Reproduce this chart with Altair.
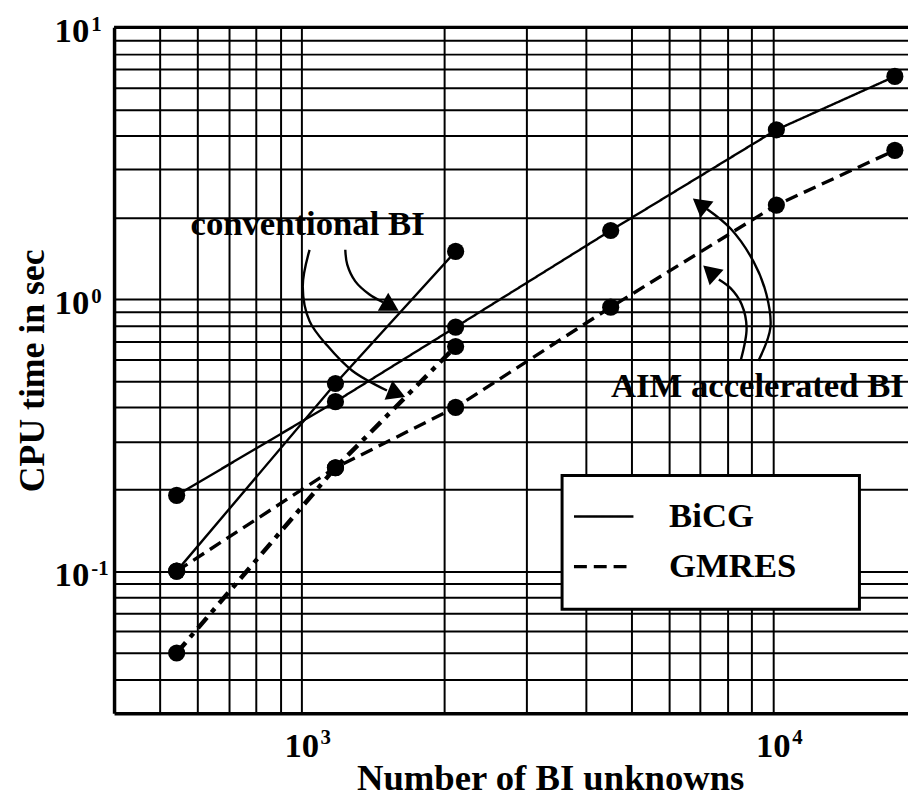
import altair as alt
import pandas as pd

# ---------------- data ----------------
n_unknowns = [543, 1179, 2120, 4520, 10150, 18100]
aim_bicg = [0.19, 0.42, 0.79, 1.79, 4.2, 6.6]
aim_gmres = [0.10, 0.24, 0.40, 0.935, 2.22, 3.53]
conv_n = [543, 1179, 2120]
conv_bicg = [0.10, 0.49, 1.5]
conv_gmres = [0.05, 0.24, 0.67]

methods = ["BiCG", "GMRES"]

x_min, x_max = 400, 19300
y_min, y_max = 0.03, 10

x_grid = [500, 600, 700, 800, 900, 1000, 2000, 3000, 4000, 5000, 6000,
          7000, 8000, 9000, 10000]
y_grid = [0.04, 0.05, 0.06, 0.07, 0.08, 0.09, 0.1, 0.2, 0.3, 0.4, 0.5,
          0.6, 0.7, 0.8, 0.9, 1, 2, 3, 4, 5, 6, 7, 8, 9, 10]

x_label_vals = [1000, 10000]
x_label_exp = ["3", "4"]
y_label_vals = [0.1, 1, 10]
y_label_exp = ["-1", "0", "1"]

annot_text = ["conventional BI", "AIM accelerated BI"]
annot_x = [1029, 9250]
annot_y = [1.727, 0.4354]

# curved annotation arrows (data coordinates)
arrow1_x = [1237, 1249, 1299, 1390, 1487]
arrow1_y = [1.52, 1.34, 1.163, 1.043, 0.975]
arrow2_x = [1039, 1005, 1039, 1134, 1280, 1516]
arrow2_y = [1.52, 1.115, 0.831, 0.674, 0.546, 0.4615]
arrow3_x = [9300, 9856, 9667, 9078, 8123, 7231]
arrow3_y = [0.594, 0.784, 1.043, 1.376, 1.816, 2.148]
arrow4_x = [8524, 8776, 8565, 8123, 7664]
arrow4_y = [0.594, 0.784, 0.959, 1.097, 1.183]

head_x = [1545, 1591, 6989, 7337]
head_y = [0.943, 0.450, 2.24, 1.265]
head_angle = [120, 112, 308, 312]

# ---------------- tables ----------------
aim_df = pd.DataFrame({
    "n": n_unknowns * 2,
    "t": aim_bicg + aim_gmres,
    "method": ["BiCG"] * len(n_unknowns) + ["GMRES"] * len(n_unknowns),
})
conv_bicg_df = pd.DataFrame({"n": conv_n, "t": conv_bicg})
conv_gmres_df = pd.DataFrame({"n": conv_n, "t": conv_gmres})
dots_df = pd.DataFrame({
    "n": n_unknowns * 2 + conv_n * 2,
    "t": aim_bicg + aim_gmres + conv_bicg + conv_gmres,
})

arrows = []
for k, (xs, ys) in enumerate([(arrow1_x, arrow1_y), (arrow2_x, arrow2_y),
                              (arrow3_x, arrow3_y), (arrow4_x, arrow4_y)]):
    for i, (a, b) in enumerate(zip(xs, ys)):
        arrows.append({"arrow": k, "idx": i, "n": a, "t": b})
arrows_df = pd.DataFrame(arrows)
heads_df = pd.DataFrame({"n": head_x, "t": head_y, "angle": head_angle})
annot_df = pd.DataFrame({"n": annot_x, "t": annot_y, "txt": annot_text})

xlab_df = pd.DataFrame({"n": x_label_vals, "t": [y_min] * 2,
                        "base": ["10"] * 2, "exp": x_label_exp})
ylab_df = pd.DataFrame({"n": [x_min] * 3, "t": y_label_vals,
                        "base": ["10"] * 3, "exp": y_label_exp})
top_df = pd.DataFrame({"t": [y_max]})

# ---------------- scales / axes ----------------
FONT = "Liberation Serif"
BIG = 35
TITLE = 36
xscale = alt.Scale(type="log", domain=[x_min, x_max], nice=False)
yscale = alt.Scale(type="log", domain=[y_min, y_max], nice=False)

xaxis = alt.Axis(values=x_grid, labels=False, ticks=False, grid=True,
                 gridColor="black", gridWidth=2, gridOpacity=1,
                 domain=True, domainColor="black", domainWidth=3.5,
                 title="Number of BI unknowns", titleFont=FONT,
                 titleFontSize=37, titleFontWeight="bold", titleColor="black",
                 titlePadding=48, titleX=440, titleAlign="center")
yaxis = alt.Axis(values=y_grid, labels=False, ticks=False, grid=True,
                 gridColor="black", gridWidth=2, gridOpacity=1,
                 domain=True, domainColor="black", domainWidth=3.5,
                 title="CPU time in sec", titleFont=FONT,
                 titleFontSize=TITLE, titleFontWeight="bold", titleColor="black",
                 titlePadding=63)


def X(f="n"):
    return alt.X(f, type="quantitative", scale=xscale, axis=xaxis)


def Y(f="t"):
    return alt.Y(f, type="quantitative", scale=yscale, axis=yaxis)


# invisible (white) legend title only sizes the legend box
legend = alt.Legend(title="M" * 28, titleOrient="bottom", titleFontSize=12,
                    titleColor="white", titlePadding=4, titleLimit=0,
                    orient="none", legendX=452, legendY=452,
                    direction="vertical", symbolType="stroke",
                    symbolSize=3600, symbolStrokeWidth=3,
                    symbolStrokeColor="black", labelFont=FONT,
                    labelFontSize=BIG, labelFontWeight="bold",
                    labelColor="black", labelOffset=34, padding=10,
                    labelLimit=0,
                    rowPadding=-12, fillColor="white", strokeColor="black")

aim_lines = alt.Chart(aim_df).mark_line(color="black").encode(
    x=X(), y=Y(),
    strokeDash=alt.StrokeDash("method:N",
                              scale=alt.Scale(domain=methods,
                                              range=[[1, 0], [13, 7]]),
                              legend=legend),
    strokeWidth=alt.StrokeWidth("method:N",
                                scale=alt.Scale(domain=methods,
                                                range=[2.4, 3.4]),
                                legend=None),
)
conv_b = alt.Chart(conv_bicg_df).mark_line(color="black", strokeWidth=2.4).encode(
    x=X(), y=Y())
conv_g = alt.Chart(conv_gmres_df).mark_line(
    color="black", strokeWidth=4.5, strokeDash=[14, 7, 5, 7]).encode(x=X(), y=Y())
dots = alt.Chart(dots_df).mark_circle(color="black", size=300, opacity=1).encode(
    x=X(), y=Y())

top_rule = alt.Chart(top_df).mark_rule(color="black", strokeWidth=3.5).encode(
    y=Y())

arrow_lines = alt.Chart(arrows_df).mark_line(
    color="black", strokeWidth=2.4, interpolate="catmull-rom").encode(
    x=X(), y=Y(), detail="arrow:N", order=alt.Order("idx:Q"))
heads = alt.Chart(heads_df).mark_point(
    shape="triangle-up", filled=True, size=440, color="black", opacity=1).encode(
    x=X(), y=Y(), angle=alt.Angle("angle:Q", scale=None))
annots = alt.Chart(annot_df).mark_text(
    font=FONT, fontSize=BIG, fontWeight="bold", color="black",
    align="center", baseline="alphabetic").encode(x=X(), y=Y(), text="txt:N")

xlab_base = alt.Chart(xlab_df).mark_text(
    font=FONT, fontSize=BIG, fontWeight="bold", color="black",
    align="center", baseline="alphabetic", dy=44).encode(
    x=X(), y=Y(), text="base:N")
xlab_exp = alt.Chart(xlab_df).mark_text(
    font=FONT, fontSize=21, fontWeight="bold", color="black",
    align="left", baseline="alphabetic", dx=19, dy=31).encode(
    x=X(), y=Y(), text="exp:N")
ylab_base = alt.Chart(ylab_df).mark_text(
    font=FONT, fontSize=BIG, fontWeight="bold", color="black",
    align="right", baseline="alphabetic", dx=-25, dy=15).encode(
    x=X(), y=Y(), text="base:N")
ylab_exp = alt.Chart(ylab_df).mark_text(
    font=FONT, fontSize=21, fontWeight="bold", color="black",
    align="left", baseline="alphabetic", dx=-23, dy=4).encode(
    x=X(), y=Y(), text="exp:N")

chart = alt.layer(
    aim_lines, conv_b, conv_g, top_rule, arrow_lines, heads, dots, annots,
    xlab_base, xlab_exp, ylab_base, ylab_exp,
).properties(
    width=801, height=692,
    autosize=alt.AutoSizeParams(type="none"),
    padding={"left": 107, "top": 16, "right": 0, "bottom": 90},
    background="white",
).configure_view(stroke=None).configure_legend(strokeWidth=3)

chart.save("out.html", embed_options={"renderer": "svg", "actions": False})
